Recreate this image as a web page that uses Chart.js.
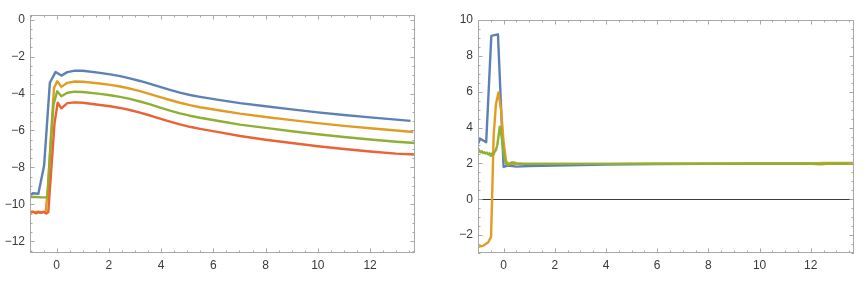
<!DOCTYPE html>
<html>
<head>
<meta charset="utf-8">
<script src="https://cdn.jsdelivr.net/npm/chart.js@4/dist/chart.umd.min.js"></script>
<style>
  body { margin: 0; background: #fff; }
  .box { position: absolute; top: 0; height: 285px; }
  #leftBox { left: 0; width: 433px; }
  #rightBox { left: 433px; width: 434px; }
</style>
</head>
<body>
<div class="box" id="leftBox"><canvas id="leftChart"></canvas></div>
<div class="box" id="rightBox"><canvas id="rightChart"></canvas></div>
<script>
// tick labels
const xTicks = [0, 2, 4, 6, 8, 10, 12];
const leftYTicks = [0, -2, -4, -6, -8, -10, -12];
const rightYTicks = [10, 8, 6, 4, 2, 0, -2];

// left panel
const leftBlueX = [-1, -0.92, -0.7, -0.48, -0.26, -0.04, 0.18, 0.41, 0.7, 1, 1.66, 2.05, 2.43, 2.8, 3.19, 3.58, 3.96, 4.34, 4.72, 5.1, 5.49, 6.26, 7.02, 8, 9, 10, 11, 12, 13, 13.55];
const leftBlueY = [-9.5, -9.4, -9.42, -7.9, -3.42, -2.83, -3.03, -2.84, -2.76, -2.77, -2.88, -2.96, -3.06, -3.18, -3.32, -3.48, -3.64, -3.8, -3.95, -4.08, -4.18, -4.36, -4.52, -4.69, -4.86, -5.02, -5.16, -5.29, -5.41, -5.48];

const leftOrangeX = [-1, -0.85, -0.7, -0.55, -0.42, -0.32, -0.22, -0.1, 0.02, 0.18, 0.41, 0.7, 1, 1.66, 2.05, 2.43, 2.8, 3.19, 3.58, 3.96, 4.34, 4.72, 5.1, 5.49, 6.26, 7.02, 8, 9, 10, 11, 12, 13, 13.65];
const leftOrangeY = [-10.38, -10.42, -10.4, -10.42, -10.4, -8.9, -6.3, -3.7, -3.34, -3.64, -3.42, -3.35, -3.36, -3.46, -3.53, -3.62, -3.73, -3.87, -4.03, -4.19, -4.35, -4.5, -4.63, -4.74, -4.92, -5.09, -5.27, -5.44, -5.6, -5.75, -5.88, -6.0, -6.08];

const leftGreenX = [-1, -0.8, -0.6, -0.36, -0.25, -0.12, 0.02, 0.18, 0.41, 0.7, 1, 1.66, 2.05, 2.43, 2.8, 3.19, 3.58, 3.96, 4.34, 4.72, 5.1, 5.49, 6.26, 7.02, 8, 9, 10, 11, 12, 13, 13.72];
const leftGreenY = [-9.6, -9.6, -9.62, -9.62, -7.2, -4.6, -3.88, -4.15, -3.96, -3.9, -3.92, -4.02, -4.09, -4.18, -4.29, -4.43, -4.59, -4.76, -4.92, -5.07, -5.2, -5.31, -5.5, -5.68, -5.86, -6.04, -6.2, -6.35, -6.49, -6.61, -6.68];

const leftRedX = [-1, -0.9, -0.8, -0.7, -0.6, -0.5, -0.4, -0.32, -0.2, -0.08, 0.04, 0.18, 0.41, 0.7, 1, 1.66, 2.05, 2.43, 2.8, 3.19, 3.58, 3.96, 4.34, 4.72, 5.1, 5.49, 6.26, 7.02, 8, 9, 10, 11, 12, 13, 13.72];
const leftRedY = [-10.45, -10.4, -10.48, -10.42, -10.46, -10.4, -10.5, -10.42, -8.0, -5.6, -4.5, -4.8, -4.52, -4.48, -4.5, -4.62, -4.69, -4.78, -4.89, -5.03, -5.19, -5.36, -5.52, -5.67, -5.8, -5.91, -6.1, -6.3, -6.5, -6.68, -6.85, -7.0, -7.14, -7.25, -7.3];

// right panel
const rightBlueX = [-1, -0.91, -0.68, -0.48, -0.22, 0, 0.17, 0.5, 1, 2, 3, 4, 6, 8, 10, 12, 13.7];
const rightBlueY = [3.1, 3.37, 3.18, 9.11, 9.2, 1.8, 1.88, 1.82, 1.85, 1.88, 1.91, 1.93, 1.96, 1.97, 1.98, 1.98, 1.98];

const rightOrangeX = [-1, -0.8, -0.6, -0.49, -0.45, -0.39, -0.3, -0.2, -0.1, 0, 0.1, 0.2, 0.5, 1, 2, 4, 6, 8, 10, 12, 12.5, 13, 13.7];
const rightOrangeY = [-2.65, -2.6, -2.4, -2.1, 0, 3.5, 5.3, 5.96, 5.0, 3.2, 2.1, 1.98, 1.98, 1.97, 1.97, 1.97, 1.98, 1.98, 1.99, 2.0, 2.02, 2.03, 2.03];

const rightGreenX = [-1, -0.95, -0.9, -0.85, -0.8, -0.75, -0.7, -0.65, -0.6, -0.55, -0.5, -0.45, -0.4, -0.35, -0.3, -0.25, -0.2, -0.15, -0.1, -0.05, 0, 0.05, 0.1, 0.2, 0.3, 0.4, 0.5, 0.7, 1, 2, 4, 6, 8, 10, 12, 12.4, 12.6, 13, 13.7];
const rightGreenY = [2.85, 2.7, 2.62, 2.68, 2.58, 2.62, 2.55, 2.6, 2.5, 2.56, 2.42, 2.55, 2.5, 2.65, 2.75, 3.0, 3.5, 4.05, 3.7, 3.2, 2.6, 2.2, 1.98, 1.9, 2.05, 2.05, 2.0, 1.98, 1.97, 1.97, 1.97, 1.98, 1.98, 1.98, 1.98, 1.95, 1.98, 1.98, 1.98];

const BLUE = "#5e81b5";
const ORANGE = "#e19c24";
const GREEN = "#8fb032";
const RED = "#eb6235";
const FRAME = "#a8a8a8";
const TEXT = "#3a3a3a";

function toPoints(xs, ys) {
  return xs.map((x, i) => ({ x, y: ys[i] }));
}

function serie(xs, ys, color, order) {
  return {
    data: toPoints(xs, ys),
    borderColor: color,
    borderWidth: 2.4,
    borderJoinStyle: "round",
    showLine: true,
    pointRadius: 0,
    fill: false,
    tension: 0,
    order,
  };
}

function label(v) {
  return v < 0 ? "\u2212" + Math.abs(v) : String(v);
}

// marco con marcas hacia dentro, estilo Mathematica
const frameTicks = {
  id: "frameTicks",
  afterDatasetsDraw(chart) {
    const { ctx, chartArea: a, scales } = chart;
    const x = scales.x;
    const y = scales.y;
    ctx.save();
    ctx.strokeStyle = FRAME;
    ctx.lineWidth = 1;
    ctx.strokeRect(a.left + 0.5, a.top + 0.5, a.width - 1, a.height - 1);
    ctx.beginPath();
    for (let v = Math.ceil(x.min / 0.5) * 0.5; v <= x.max; v += 0.5) {
      const px = Math.round(x.getPixelForValue(v)) + 0.5;
      const len = v % 2 === 0 ? 4.5 : 2.5;
      ctx.moveTo(px, a.bottom);
      ctx.lineTo(px, a.bottom - len);
      ctx.moveTo(px, a.top);
      ctx.lineTo(px, a.top + len);
    }
    for (let v = Math.ceil(y.min / 0.5) * 0.5; v <= y.max; v += 0.5) {
      const py = Math.round(y.getPixelForValue(v)) + 0.5;
      const len = v % 2 === 0 ? 4.5 : 2.5;
      ctx.moveTo(a.left, py);
      ctx.lineTo(a.left + len, py);
      ctx.moveTo(a.right, py);
      ctx.lineTo(a.right - len, py);
    }
    ctx.stroke();
    ctx.restore();
  },
};

function crearPanel({ canvasId, datasets, xMin, xMax, yMin, yMax, yTicks, yWidth, padding }) {
  const ctx = document.getElementById(canvasId).getContext("2d");
  new Chart(ctx, {
    type: "scatter",
    data: { datasets },
    options: {
      responsive: true,
      maintainAspectRatio: false,
      animation: false,
      layout: { padding },
      scales: {
        x: {
          type: "linear",
          min: xMin,
          max: xMax,
          afterBuildTicks: (s) => { s.ticks = xTicks.map((value) => ({ value })); },
          afterFit: (s) => { s.height = 22; },
          grid: { display: false, drawTicks: false },
          border: { display: false },
          ticks: {
            autoSkip: false,
            maxRotation: 0,
            padding: 5,
            color: TEXT,
            font: { family: "'Liberation Sans', Arial, sans-serif", size: 12 },
            callback: label,
          },
        },
        y: {
          type: "linear",
          min: yMin,
          max: yMax,
          afterBuildTicks: (s) => { s.ticks = yTicks.map((value) => ({ value })); },
          afterFit: (s) => { s.width = yWidth; },
          grid: {
            drawTicks: false,
            lineWidth: 1,
            color: (c) => (c.tick && c.tick.value === 0 && canvasId === "rightChart" ? "#3c3c3c" : "rgba(0,0,0,0)"),
          },
          border: { display: false },
          ticks: {
            autoSkip: false,
            padding: 5,
            color: TEXT,
            font: { family: "'Liberation Sans', Arial, sans-serif", size: 12 },
            callback: label,
          },
        },
      },
      plugins: {
        legend: { display: false },
        tooltip: { enabled: false },
      },
    },
    plugins: [frameTicks],
  });
}

window.addEventListener("DOMContentLoaded", () => {
  crearPanel({
    canvasId: "leftChart",
    datasets: [
      serie(leftBlueX, leftBlueY, BLUE, 4),
      serie(leftOrangeX, leftOrangeY, ORANGE, 3),
      serie(leftGreenX, leftGreenY, GREEN, 2),
      serie(leftRedX, leftRedY, RED, 1),
    ],
    xMin: -1.02,
    xMax: 13.72,
    yMin: -12.63,
    yMax: 0.25,
    yTicks: leftYTicks,
    yWidth: 30,
    padding: { top: 15, right: 18, bottom: 10, left: 0 },
  });

  crearPanel({
    canvasId: "rightChart",
    datasets: [
      serie(rightBlueX, rightBlueY, BLUE, 3),
      serie(rightOrangeX, rightOrangeY, ORANGE, 2),
      serie(rightGreenX, rightGreenY, GREEN, 1),
    ],
    xMin: -1.0,
    xMax: 13.69,
    yMin: -3,
    yMax: 10,
    yTicks: rightYTicks,
    yWidth: 45,
    padding: { top: 20, right: 13, bottom: 10, left: 0 },
  });
});
</script>
</body>
</html>
